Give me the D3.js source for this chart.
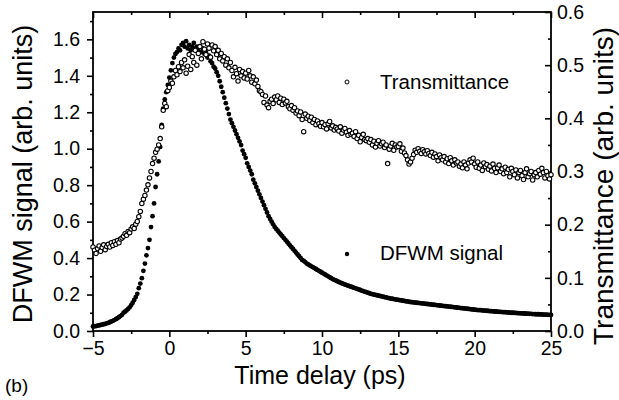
<!DOCTYPE html>
<html><head><meta charset="utf-8">
<script src="https://cdn.jsdelivr.net/npm/d3@7"></script>
<style>
body{margin:0;background:#fff}
svg{display:block}
text{font-family:"Liberation Sans",Arial,Helvetica,sans-serif;fill:#000}
</style>
</head><body>
<svg id="chart" width="619" height="400"></svg>
<script>
// ---- data ----
const timeStart = -5;     // ps, first delay sample
const timeStep = 0.1;     // ps, sampling step
// DFWM signal (arb. units, left axis), one value per delay step from -5 to 25 ps
const dfwmSignal = [
0.025,0.026,0.027,0.029,0.031,0.033,0.035,0.037,0.039,0.042,
0.045,0.048,0.052,0.056,0.060,0.065,0.070,0.076,0.082,0.089,
0.100,0.106,0.113,0.121,0.130,0.142,0.155,0.170,0.186,0.204,
0.235,0.260,0.290,0.330,0.370,0.415,0.455,0.500,0.570,0.630,
0.700,0.790,0.860,0.930,1.010,1.130,1.220,1.270,1.310,1.350,
1.390,1.430,1.470,1.500,1.520,1.530,1.550,1.540,1.570,1.580,
1.560,1.590,1.550,1.570,1.540,1.560,1.580,1.550,1.560,1.540,
1.560,1.530,1.550,1.520,1.530,1.500,1.510,1.480,1.470,1.450,
1.440,1.420,1.400,1.370,1.340,1.310,1.280,1.250,1.220,1.190,
1.160,1.140,1.120,1.100,1.080,1.060,1.040,1.020,0.990,0.970,
0.950,0.920,0.900,0.880,0.860,0.830,0.810,0.790,0.770,0.750,
0.730,0.710,0.690,0.670,0.650,0.630,0.615,0.600,0.585,0.570,
0.560,0.550,0.540,0.530,0.520,0.510,0.500,0.490,0.480,0.470,
0.460,0.450,0.440,0.430,0.420,0.410,0.400,0.390,0.385,0.378,
0.370,0.365,0.360,0.355,0.350,0.345,0.340,0.335,0.330,0.325,
0.320,0.315,0.310,0.305,0.300,0.295,0.290,0.285,0.281,0.277,
0.273,0.269,0.265,0.262,0.258,0.255,0.252,0.249,0.246,0.243,
0.240,0.237,0.234,0.231,0.228,0.225,0.222,0.219,0.216,0.213,
0.210,0.207,0.204,0.202,0.200,0.198,0.196,0.194,0.192,0.190,
0.188,0.186,0.184,0.182,0.180,0.178,0.177,0.175,0.174,0.172,
0.171,0.169,0.168,0.166,0.165,0.163,0.162,0.160,0.159,0.158,
0.157,0.156,0.155,0.154,0.153,0.152,0.151,0.150,0.149,0.148,
0.147,0.146,0.145,0.144,0.143,0.142,0.141,0.140,0.139,0.138,
0.137,0.136,0.135,0.134,0.133,0.132,0.131,0.130,0.129,0.128,
0.127,0.126,0.125,0.124,0.123,0.122,0.121,0.120,0.119,0.118,
0.117,0.116,0.115,0.115,0.114,0.113,0.112,0.112,0.111,0.110,
0.109,0.109,0.108,0.107,0.107,0.106,0.105,0.105,0.104,0.103,
0.103,0.102,0.102,0.101,0.100,0.100,0.099,0.099,0.098,0.098,
0.097,0.097,0.096,0.096,0.095,0.095,0.094,0.094,0.093,0.093,
0.092,0.092,0.092,0.091,0.091,0.090,0.090,0.090,0.089,0.089,
0.088
];
// Transmittance (arb. units, right axis), same delay samples
const transmittance = [
0.158,0.152,0.146,0.155,0.160,0.150,0.157,0.162,0.153,0.159,
0.163,0.158,0.166,0.161,0.168,0.163,0.170,0.166,0.173,0.175,
0.178,0.183,0.180,0.187,0.185,0.192,0.196,0.193,0.201,0.206,
0.215,0.225,0.240,0.248,0.255,0.265,0.275,0.288,0.300,0.315,
0.325,0.336,0.342,0.350,0.362,0.384,0.415,0.428,0.422,0.452,
0.458,0.470,0.466,0.478,0.490,0.482,0.497,0.488,0.505,0.495,
0.510,0.485,0.498,0.520,0.492,0.516,0.505,0.528,0.500,0.522,
0.535,0.512,0.544,0.530,0.520,0.540,0.532,0.515,0.538,0.527,
0.535,0.520,0.528,0.512,0.522,0.508,0.516,0.500,0.512,0.495,
0.505,0.490,0.478,0.496,0.484,0.470,0.492,0.480,0.488,0.476,
0.485,0.474,0.490,0.480,0.468,0.478,0.465,0.472,0.460,0.452,
0.450,0.445,0.430,0.442,0.425,0.420,0.432,0.436,0.428,0.440,
0.435,0.442,0.430,0.438,0.426,0.436,0.429,0.432,0.422,0.418,
0.424,0.415,0.420,0.410,0.414,0.405,0.412,0.398,0.375,0.408,
0.400,0.404,0.396,0.402,0.392,0.398,0.388,0.395,0.390,0.385,
0.392,0.384,0.388,0.380,0.390,0.394,0.382,0.386,0.378,0.383,
0.380,0.376,0.384,0.372,0.378,0.381,0.374,0.368,0.377,0.370,
0.372,0.366,0.375,0.362,0.368,0.356,0.364,0.370,0.360,0.358,
0.362,0.355,0.360,0.350,0.357,0.346,0.353,0.358,0.348,0.352,
0.355,0.345,0.350,0.315,0.342,0.348,0.353,0.340,0.350,0.346,
0.347,0.352,0.338,0.344,0.335,0.330,0.322,0.314,0.318,0.325,
0.332,0.340,0.336,0.343,0.338,0.334,0.341,0.337,0.333,0.339,
0.334,0.330,0.336,0.327,0.333,0.328,0.320,0.331,0.326,0.322,
0.328,0.318,0.324,0.315,0.326,0.320,0.312,0.322,0.316,0.318,
0.310,0.314,0.307,0.318,0.312,0.305,0.316,0.322,0.318,0.325,
0.314,0.308,0.318,0.306,0.312,0.302,0.316,0.309,0.313,0.304,
0.310,0.301,0.314,0.306,0.298,0.307,0.312,0.300,0.305,0.296,
0.308,0.298,0.304,0.290,0.306,0.300,0.294,0.303,0.288,0.298,
0.302,0.292,0.285,0.298,0.305,0.290,0.296,0.300,0.284,0.294,
0.298,0.290,0.302,0.295,0.306,0.298,0.288,0.300,0.292,0.286,
0.294
];
const xTicks = [-5, 0, 5, 10, 15, 20, 25];
const yLeftTicks = [0.0, 0.2, 0.4, 0.6, 0.8, 1.0, 1.2, 1.4, 1.6];
const yRightTicks = [0.0, 0.1, 0.2, 0.3, 0.4, 0.5, 0.6];
const seriesNames = ["Transmittance", "DFWM signal"];
const xTitle = "Time delay (ps)";
const yLeftTitle = "DFWM signal (arb. units)";
const yRightTitle = "Transmittance (arb. units)";
const panelLabel = "(b)";

// ---- layout ----
const W = 619, H = 400;
const m = {left: 93, right: 68, top: 12, bottom: 69};
const iw = W - m.left - m.right, ih = H - m.top - m.bottom;

const svg = d3.select("#chart");
const g = svg.append("g").attr("transform", `translate(${m.left},${m.top})`);

const x = d3.scaleLinear().domain([-5, 25]).range([0, iw]);
const yL = d3.scaleLinear().domain([0, 1.75]).range([ih, 0]);
const yR = d3.scaleLinear().domain([0, 0.6]).range([ih, 0]);

const timeDelay = dfwmSignal.map((_, i) => +(timeStart + i * timeStep).toFixed(2));
const dfwmPts = dfwmSignal.map((v, i) => ({t: timeDelay[i], v}));
const transPts = transmittance.map((v, i) => ({t: timeDelay[i], v}));

const fs = 19.5;
function styleAxis(sel, labels) {
  sel.select(".domain").remove();
  sel.selectAll(".tick line").attr("stroke", "#000").attr("stroke-width", 1.6);
  sel.selectAll(".tick text").attr("font-size", fs).attr("font-family", null);
  if (!labels) sel.selectAll(".tick text").remove();
}
const minorX = d3.range(-2.5, 25, 5);
const minorYL = d3.range(0.1, 1.75, 0.2);
const minorYR = d3.range(0.05, 0.6, 0.1);

// bottom axis (outward)
g.append("g").attr("transform", `translate(0,${ih})`)
  .call(d3.axisBottom(x).tickValues(xTicks).tickSize(6).tickPadding(4).tickFormat(d3.format("d")))
  .call(s => styleAxis(s, true));
g.append("g").attr("transform", `translate(0,${ih})`)
  .call(d3.axisBottom(x).tickValues(minorX).tickSize(3))
  .call(s => styleAxis(s, false));
// top axis (inward)
g.append("g")
  .call(d3.axisTop(x).tickValues(xTicks).tickSize(-6))
  .call(s => styleAxis(s, false));
g.append("g")
  .call(d3.axisTop(x).tickValues(minorX).tickSize(-3))
  .call(s => styleAxis(s, false));
// left axis (outward)
g.append("g")
  .call(d3.axisLeft(yL).tickValues(yLeftTicks).tickSize(6).tickPadding(7).tickFormat(d3.format(".1f")))
  .call(s => styleAxis(s, true));
g.append("g")
  .call(d3.axisLeft(yL).tickValues(minorYL).tickSize(3))
  .call(s => styleAxis(s, false));
// right axis (inward)
g.append("g").attr("transform", `translate(${iw},0)`)
  .call(d3.axisRight(yR).tickValues(yRightTicks).tickSize(-6).tickPadding(6).tickFormat(d3.format(".1f")))
  .call(s => styleAxis(s, true));
g.append("g").attr("transform", `translate(${iw},0)`)
  .call(d3.axisRight(yR).tickValues(minorYR).tickSize(-3))
  .call(s => styleAxis(s, false));

// frame
g.append("rect").attr("width", iw).attr("height", ih)
  .attr("fill", "none").attr("stroke", "#000").attr("stroke-width", 1.8);

// data
g.append("g").selectAll("circle").data(dfwmPts).join("circle")
  .attr("cx", d => x(d.t)).attr("cy", d => yL(d.v)).attr("r", 2.4)
  .attr("fill", "#000");
g.append("g").selectAll("circle").data(transPts).join("circle")
  .attr("cx", d => x(d.t)).attr("cy", d => yR(d.v)).attr("r", 2.2)
  .attr("fill", "#fff").attr("stroke", "#000").attr("stroke-width", 1.1);

// legend
const lg = svg.append("g");
lg.append("circle").attr("cx", 347).attr("cy", 82).attr("r", 2)
  .attr("fill", "#fff").attr("stroke", "#000").attr("stroke-width", 1);
lg.append("text").attr("x", 380).attr("y", 89).attr("font-size", 20.5).text(seriesNames[0]);
lg.append("circle").attr("cx", 347).attr("cy", 254).attr("r", 2.2).attr("fill", "#000");
lg.append("text").attr("x", 380).attr("y", 260).attr("font-size", 20.5).text(seriesNames[1]);

// titles
svg.append("text").attr("x", 320).attr("y", 384).attr("text-anchor", "middle")
  .attr("font-size", 25).text(xTitle);
svg.append("text").attr("transform", "translate(32,174) rotate(-90)")
  .attr("text-anchor", "middle").attr("font-size", 27).text(yLeftTitle);
svg.append("text").attr("transform", "translate(613,186) rotate(-90)")
  .attr("text-anchor", "middle").attr("font-size", 28).text(yRightTitle);
svg.append("text").attr("x", 5).attr("y", 392).attr("font-size", 19).text(panelLabel);
</script>
</body></html>
